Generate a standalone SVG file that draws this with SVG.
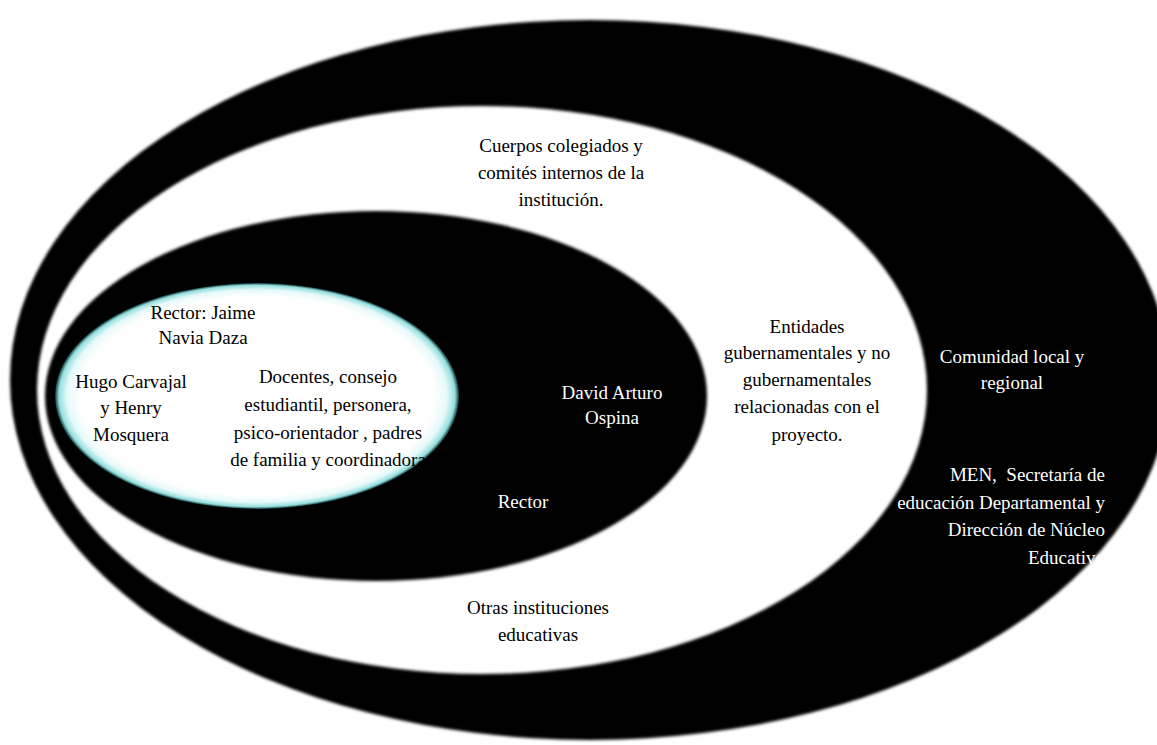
<svg xmlns="http://www.w3.org/2000/svg" width="1157" height="745" viewBox="0 0 1157 745">
  <style>
    text { font-family: "Liberation Serif", "DejaVu Serif", serif; font-size: 19px; text-anchor: middle; }
    .dk { fill: #000; }
    .lt { fill: #fff; }
    .r { text-anchor: end; }
    .ring { fill: #030303; filter: url(#soft); }
  </style>
  <defs>
    <filter id="soft" x="-5%" y="-5%" width="110%" height="110%">
      <feGaussianBlur stdDeviation="1.4"/>
    </filter>
    <radialGradient id="core" cx="50%" cy="50%" r="50%">
      <stop offset="0" stop-color="#ffffff"/>
      <stop offset="0.88" stop-color="#ffffff"/>
      <stop offset="0.94" stop-color="#e6f9f9"/>
      <stop offset="0.98" stop-color="#95dede"/>
      <stop offset="1" stop-color="#103838"/>
    </radialGradient>
  </defs>
  <rect width="1157" height="745" fill="#ffffff"/>

  <g id="ring-regional">
    <ellipse class="ring" cx="590" cy="380" rx="580" ry="360"/>
  </g>
  <g id="ring-entidades">
    <ellipse cx="482" cy="390" rx="445" ry="284" fill="#ffffff" filter="url(#soft)"/>
  </g>
  <g id="ring-rector">
    <ellipse class="ring" cx="376" cy="396" rx="331" ry="185"/>
  </g>
  <g id="core-node">
    <ellipse cx="257" cy="396" rx="202" ry="113" fill="url(#core)"/>
  </g>

  <g id="label-cuerpos">
    <text class="dk" x="561" y="152">Cuerpos colegiados y</text>
    <text class="dk" x="561" y="179">comités internos de la</text>
    <text class="dk" x="561" y="206">institución.</text>
  </g>
  <g id="label-rector-jaime">
    <text class="dk" x="203" y="319">Rector: Jaime</text>
    <text class="dk" x="203" y="344">Navia Daza</text>
  </g>
  <g id="label-hugo">
    <text class="dk" x="131" y="388">Hugo Carvajal</text>
    <text class="dk" x="131" y="414">y Henry</text>
    <text class="dk" x="131" y="441">Mosquera</text>
  </g>
  <g id="label-docentes">
    <text class="dk" x="328" y="383">Docentes, consejo</text>
    <text class="dk" x="328" y="411">estudiantil, personera,</text>
    <text class="dk" x="328" y="439">psico-orientador , padres</text>
    <text class="dk" x="328" y="466">de familia y coordinadora</text>
  </g>
  <g id="label-david">
    <text class="lt" x="612" y="399">David Arturo</text>
    <text class="lt" x="612" y="424">Ospina</text>
  </g>
  <g id="label-rector">
    <text class="lt" x="523" y="508">Rector</text>
  </g>
  <g id="label-entidades">
    <text class="dk" x="807" y="333">Entidades</text>
    <text class="dk" x="807" y="359">gubernamentales y no</text>
    <text class="dk" x="807" y="386">gubernamentales</text>
    <text class="dk" x="807" y="413">relacionadas con el</text>
    <text class="dk" x="807" y="441">proyecto.</text>
  </g>
  <g id="label-comunidad">
    <text class="lt" x="1012" y="363">Comunidad local y</text>
    <text class="lt" x="1012" y="389">regional</text>
  </g>
  <g id="label-men">
    <text class="lt r" x="1105" y="481" xml:space="preserve">MEN,  Secretaría de</text>
    <text class="lt r" x="1105" y="509">educación Departamental y</text>
    <text class="lt r" x="1105" y="536">Dirección de Núcleo</text>
    <text class="lt r" x="1105" y="564">Educativo</text>
  </g>
  <g id="label-otras">
    <text class="dk" x="538" y="614">Otras instituciones</text>
    <text class="dk" x="538" y="641">educativas</text>
  </g>
</svg>
